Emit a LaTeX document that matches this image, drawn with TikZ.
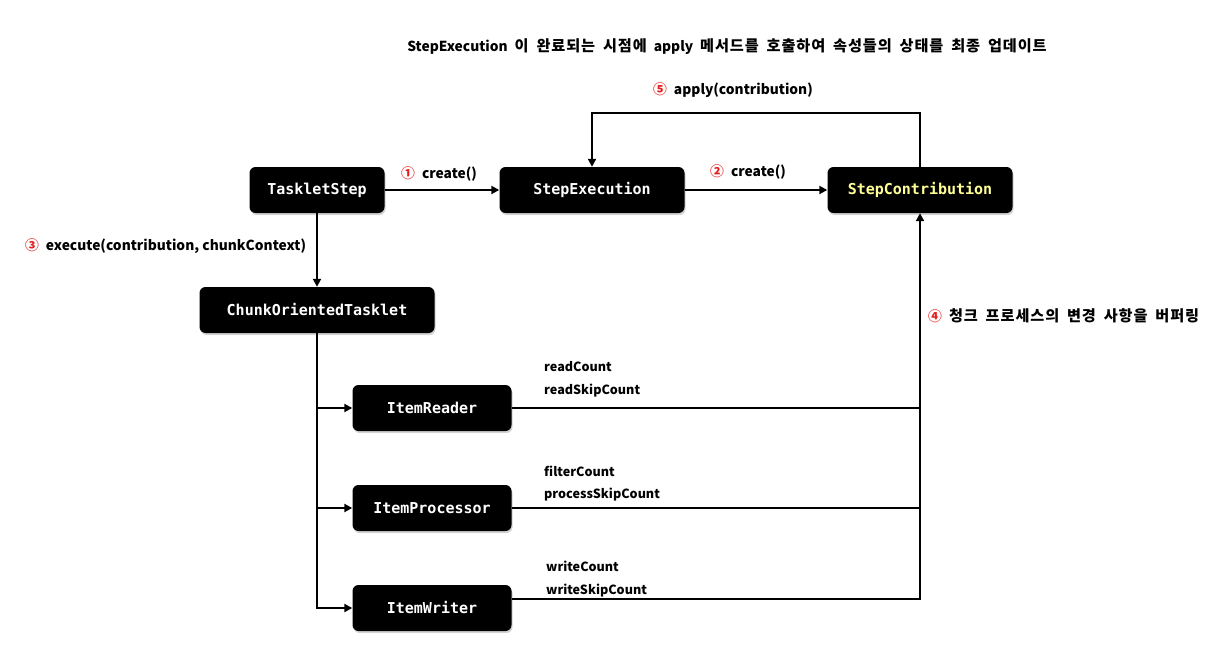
\documentclass[tikz,border=0pt]{standalone}
\usepackage{fontspec}
\setmainfont{Noto Sans CJK KR}
\newfontfamily\krfont{Noto Sans CJK KR}[Scale=1.1,LetterSpace=6,WordSpace=1.8]
\newfontfamily\codefont{DejaVu Sans Mono}
\newcommand{\kr}[1]{{\krfont\bfseries #1}}
\newcommand{\gap}{\hspace{7pt}}
\usepackage{tikz}
\usetikzlibrary{positioning}
\usetikzlibrary{arrows.meta}
\usetikzlibrary{shadows}
\definecolor{numred}{RGB}{230,30,30}
\definecolor{codeyellow}{RGB}{255,255,150}
\tikzset{
    x=1pt, y=-1pt,
    box/.style={shape=rectangle,rounded corners=6pt,fill=black,text=white,
        minimum height=46pt,inner sep=0pt,font=\codefont\bfseries\fontsize{15}{17}\selectfont,
        drop shadow={shadow xshift=1pt,shadow yshift=-2pt,opacity=0.35}},
    link/.style={line width=2.5pt},
    arrow/.style={link,-{Triangle[length=8pt,width=8pt]}},
    lbl/.style={font=\bfseries\fontsize{13.8}{16}\selectfont,inner sep=0pt},
    count/.style={font=\bfseries\fontsize{12.6}{15}\selectfont,inner sep=0pt,anchor=west}
}

\begin{document}
\begin{tikzpicture}
    \useasboundingbox (0,0) rectangle (1228,658);
    % boxes
    \node(ts) [box,minimum width=135pt] at (317,190) {TaskletStep};
    \node(se) [box,minimum width=185pt] at (592,190) {StepExecution};
    \node(sc) [box,minimum width=185pt,text=codeyellow] at (920,190) {StepContribution};
    \node(cot) [box,minimum width=235pt] at (317,310) {ChunkOrientedTasklet};
    \node(ir) [box,minimum width=159pt] at (432,408) {ItemReader};
    \node(ip) [box,minimum width=159pt] at (432,508) {ItemProcessor};
    \node(iw) [box,minimum width=159pt] at (432,608) {ItemWriter};
    % connectors
    \draw[arrow] (ts) -- (se);
    \draw[arrow] (se) -- (sc);
    \draw[arrow] (sc.north) -- ++(0,-54) -| (se.north);
    \draw[arrow] (ts) -- (cot);
    \draw[arrow] (cot.south) |- (ir.west);
    \draw[arrow] (cot.south) |- (ip.west);
    \draw[arrow] (cot.south) |- (iw.west);
    \draw[link] (ir.east) -- (ir.east -| sc.south);
    \draw[link] (ip.east) -- (ip.east -| sc.south);
    \draw[arrow] ([yshift=9pt]iw.east) -| (sc.south);
    % labels
    \node(title) [lbl] at (727,47) {StepExecution\gap\kr{이 완료되는 시점에}\gap apply\gap\kr{메서드를 호출하여 속성들의 상태를 최종 업데이트}};
    \node(l5) [lbl] at (733,90) {\textcolor{numred}{⑤}\gap apply(contribution)};
    \node(l1) [lbl,anchor=west] at (401,174) {\textcolor{numred}{①}\gap create()};
    \node(l2) [lbl,anchor=west] at (710,172) {\textcolor{numred}{②}\gap create()};
    \node(l3) [lbl,anchor=west] at (25,246) {\textcolor{numred}{③}\gap execute(contribution, chunkContext)};
    \node(l4) [lbl,anchor=west] at (928,316) {\textcolor{numred}{④}\gap\kr{청크 프로세스의 변경 사항을 버퍼링}};
    \node(rc) [count] at (544,367) {readCount};
    \node(rsc) [count] at (544,391) {readSkipCount};
    \node(fc) [count] at (544,471) {filterCount};
    \node(psc) [count] at (544,495) {processSkipCount};
    \node(wc) [count] at (546,566) {writeCount};
    \node(wsc) [count] at (546,591) {writeSkipCount};
\end{tikzpicture}
\end{document}
